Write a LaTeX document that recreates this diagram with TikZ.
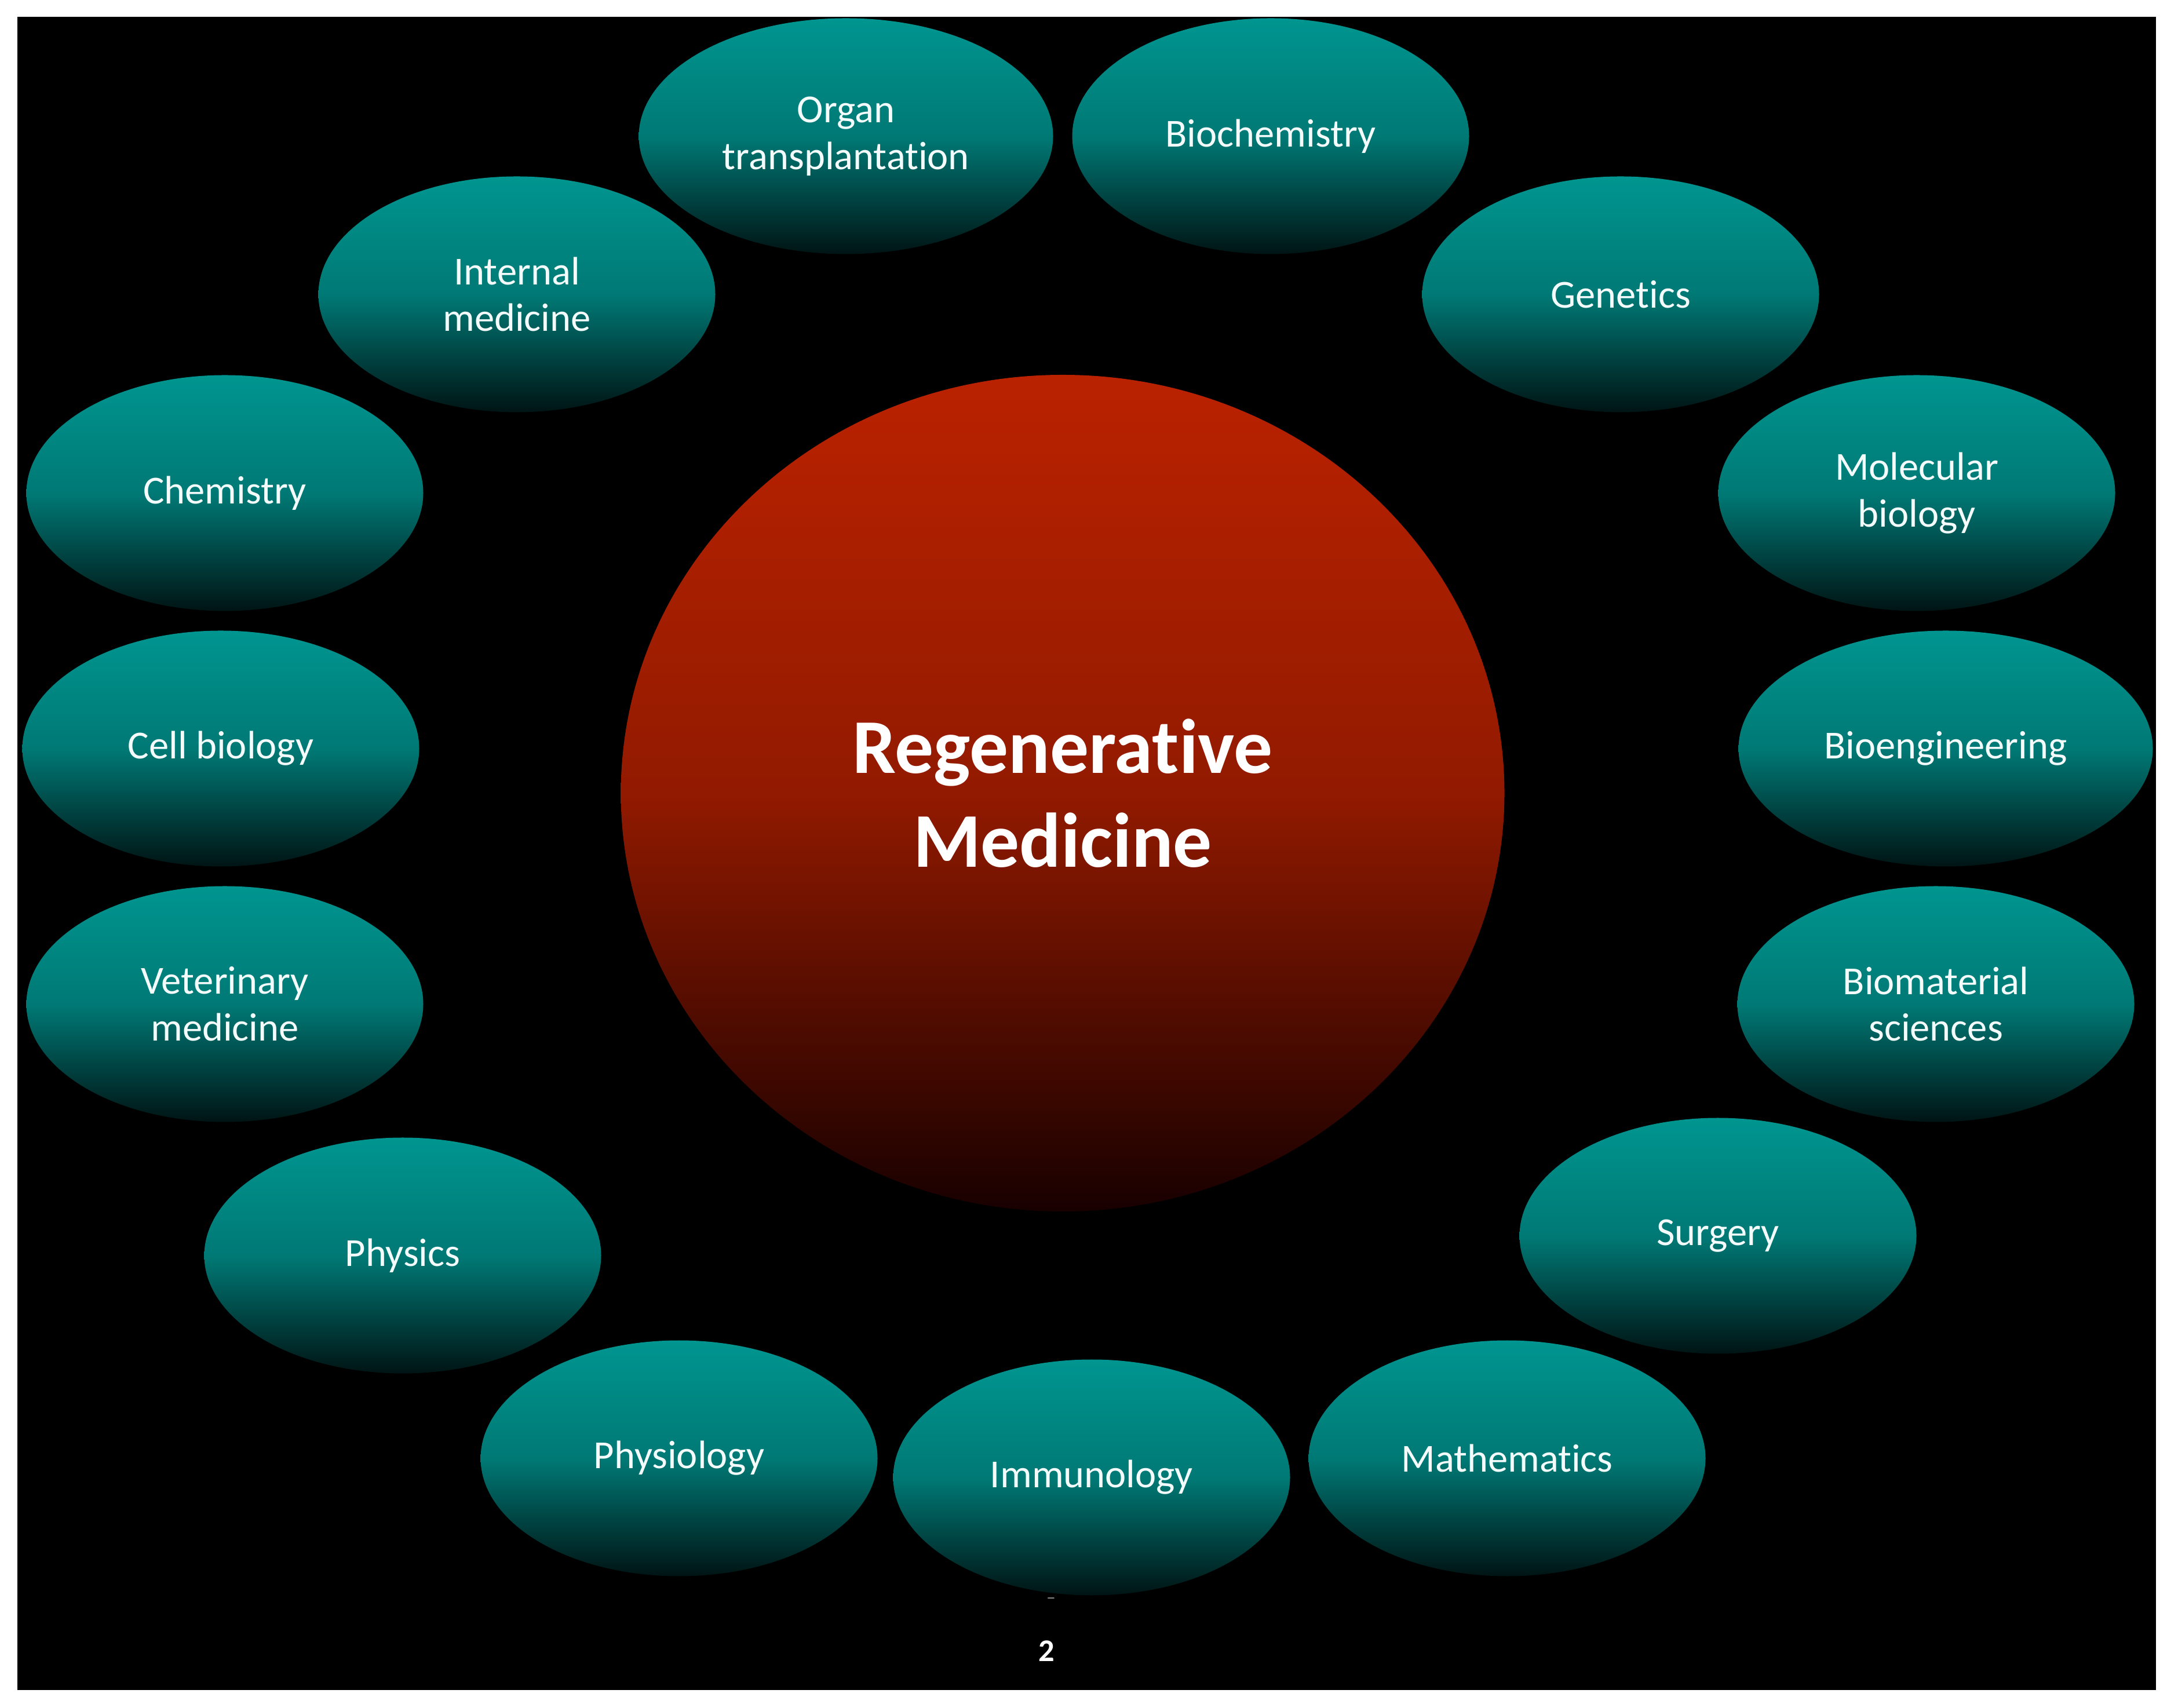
\documentclass[tikz,border=0pt]{standalone}
\usepackage{fontspec}
\setmainfont{Carlito}[RawFeature={-liga;-clig;-calt;-dlig}]
\usetikzlibrary{shapes.geometric}
\definecolor{bg}{HTML}{000000}
\definecolor{paper}{HTML}{FFFFFF}
\definecolor{tealtop}{HTML}{009590}
\definecolor{tealmid}{HTML}{007975}
\definecolor{tealbot}{HTML}{001414}
\definecolor{redtop}{HTML}{BA2200}
\definecolor{redmid}{HTML}{921A00}
\definecolor{redbot}{HTML}{180000}
\definecolor{label}{HTML}{F4FBFB}
\definecolor{faint}{HTML}{8C8C8C}
\tikzset{
  field/.style={
    ellipse,
    minimum width=6.85cm,
    minimum height=4.07cm,
    inner sep=0pt,
    top color=tealtop,
    bottom color=tealbot,
    middle color=tealmid,
    text=label,
    align=center,
    font=\fontsize{19.5}{23}\selectfont
  },
  wide/.style={minimum width=7.15cm},
  hub/.style={
    ellipse,
    minimum width=15.25cm,
    minimum height=14.44cm,
    inner sep=0pt,
    top color=redtop,
    bottom color=redbot,
    middle color=redmid,
    text=white,
    align=center,
    font=\bfseries\fontsize{38}{46}\selectfont
  }
}

\begin{document}
\begin{tikzpicture}
  \useasboundingbox (0,0) rectangle (37.59,29.47);
  \fill[paper] (0,0) rectangle (37.59,29.47);
  \fill[bg] (0.30,0.30) rectangle (37.21,29.18);

  \node[hub] (regen) at (18.34,15.78) {Regenerative\\Medicine};

  % ring of disciplines
  \node[field, wide] (organ) at (14.60,27.12) {Organ\\transplantation};
  \node[field] (biochem) at (21.93,27.12) {Biochemistry};
  \node[field] (genetics) at (27.97,24.39) {Genetics};
  \node[field] (internal) at (8.92,24.39) {Internal\\medicine};
  \node[field] (chem) at (3.88,20.96) {Chemistry};
  \node[field] (molbio) at (33.08,20.96) {Molecular\\biology};
  \node[field] (cellbio) at (3.81,16.55) {Cell biology};
  \node[field, wide] (bioeng) at (33.58,16.55) {Bioengineering};
  \node[field] (vet) at (3.88,12.14) {Veterinary\\medicine};
  \node[field] (biomat) at (33.41,12.14) {Biomaterial\\sciences};
  \node[field] (physics) at (6.95,7.80) {Physics};
  \node[field] (surgery) at (29.65,8.14) {Surgery};
  \node[field] (physio) at (11.72,4.30) {Physiology};
  \node[field] (immuno) at (18.84,3.97) {Immunology};
  \node[field] (maths) at (26.01,4.30) {Mathematics};

  \node[text=faint, font=\fontsize{9}{10}\selectfont] (mark) at (18.14,1.84) {–};
  \node[text=white, font=\bfseries\fontsize{15.5}{18}\selectfont] (page) at (18.06,0.97) {2};
\end{tikzpicture}
\end{document}
